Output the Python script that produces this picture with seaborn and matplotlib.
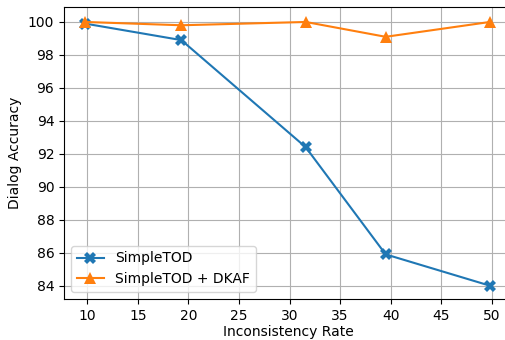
import numpy as np
import pandas as pd
import seaborn as sns
import matplotlib
matplotlib.use("Agg")
import matplotlib.pyplot as plt

# values
rate_simpletod = [9.8, 19.3, 31.6, 39.5, 49.8]
acc_simpletod = [99.9, 98.9, 92.4, 85.9, 84.0]

rate_dkaf = [9.8, 19.3, 31.6, 39.5, 49.8]
acc_dkaf = [100.0, 99.8, 100.0, 99.1, 100.0]

df = pd.concat([
    pd.DataFrame({"rate": rate_simpletod, "acc": acc_simpletod, "model": "SimpleTOD"}),
    pd.DataFrame({"rate": rate_dkaf, "acc": acc_dkaf, "model": "SimpleTOD + DKAF"}),
])

fig, ax = plt.subplots(figsize=(5.06, 3.4), dpi=100)

sns.lineplot(
    data=df,
    x="rate",
    y="acc",
    hue="model",
    style="model",
    markers=["X", "^"],
    dashes=False,
    palette=["#1f77b4", "#ff7f0e"],
    markersize=8,
    markeredgewidth=0,
    ax=ax,
)

ax.grid(True, color="#b0b0b0", linewidth=0.8)
ax.set_axisbelow(True)
ax.set_xticks([10, 15, 20, 25, 30, 35, 40, 45, 50])
ax.set_yticks([84, 86, 88, 90, 92, 94, 96, 98, 100])
ax.set_xlim(7.7, 52.0)
ax.set_ylim(83.2, 100.9)
ax.set_xlabel("Inconsistency Rate", labelpad=2)
ax.set_ylabel("Dialog Accuracy")
ax.legend(loc="lower left", title=None)

plt.subplots_adjust(left=0.1265, right=1.012, top=0.979, bottom=0.121)
plt.savefig("out.png", dpi=100)
